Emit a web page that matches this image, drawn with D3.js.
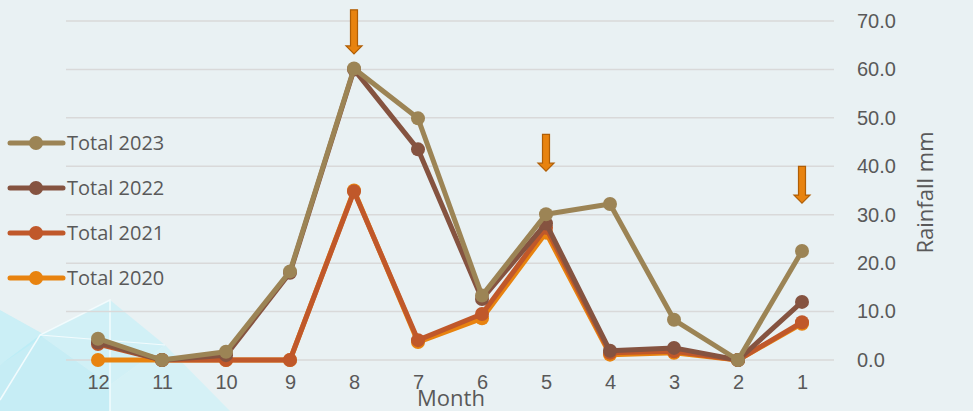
<!DOCTYPE html>
<html>
<head>
<meta charset="utf-8">
<script src="https://cdn.jsdelivr.net/npm/d3@7"></script>
<style>
  html, body { margin: 0; padding: 0; background: #e9f1f3; }
  svg { display: block; font-family: "Open Sans", "Noto Sans", sans-serif; }
</style>
</head>
<body>
<svg id="chart" width="973" height="411"></svg>
<script>
// months run backwards along the x axis
var months = ['12', '11', '10', '9', '8', '7', '6', '5', '4', '3', '2', '1'];

var total2020 = [0, 0, 0, 0, 35, 3.7, 8.6, 26.3, 1.1, 1.5, 0, 7.5];
var total2021 = [3.3, 0, 0, 0, 34.8, 4.1, 9.5, 27.3, 1.5, 1.8, 0, 7.8];
var total2022 = [3.6, 0, 1.0, 18, 60, 43.5, 12.6, 28.2, 1.9, 2.5, 0, 12];
var total2023 = [4.4, 0, 1.7, 18.3, 60.2, 49.9, 13.3, 30.1, 32.2, 8.3, 0, 22.5];

var yTicks = [0, 10, 20, 30, 40, 50, 60, 70];

// down arrows above highlighted months (tip value, length in mm)
var arrowMonths = ['8', '5', '1'];
var arrowTips = [63.2, 39, 32.4];
var arrowLens = [9.1, 7.6, 7.6];

var series = [
  { name: 'Total 2020', values: total2020, color: '#e8830f' },
  { name: 'Total 2021', values: total2021, color: '#c0582a' },
  { name: 'Total 2022', values: total2022, color: '#855340' },
  { name: 'Total 2023', values: total2023, color: '#9c8455' }
];

var svg = d3.select('#chart');
var W = 973, H = 411;
var margin = { top: 21, right: 139, bottom: 51, left: 66 };
var w = W - margin.left - margin.right;
var h = H - margin.top - margin.bottom;

// faint triangle decoration bottom-left
var deco = svg.append('g');
deco.append('polygon').attr('points', '0,310 45,335 0,365').attr('fill', '#bdeef7').attr('opacity', 0.7);
deco.append('polygon').attr('points', '40,335 110,300 165,345 110,385').attr('fill', '#c4eff8').attr('opacity', 0.65);
deco.append('polygon').attr('points', '0,365 40,335 110,385 110,411 0,411').attr('fill', '#b3ebf6').attr('opacity', 0.65);
deco.append('polygon').attr('points', '110,385 165,345 230,411 110,411').attr('fill', '#c8f1f8').attr('opacity', 0.6);
deco.append('polyline').attr('points', '0,400 40,335 110,300 110,411').attr('fill', 'none').attr('stroke', '#f2fbfd').attr('stroke-width', 1.5);
deco.append('line').attr('x1', 40).attr('y1', 335).attr('x2', 165).attr('y2', 345).attr('stroke', '#f2fbfd').attr('stroke-width', 1.2);

var g = svg.append('g').attr('transform', 'translate(' + margin.left + ',' + margin.top + ')');

var x = d3.scalePoint().domain(months).range([0, w]).padding(0.5);
var y = d3.scaleLinear().domain([0, 70]).range([h, 0]);

// gridlines
g.append('g').selectAll('line').data(yTicks).enter().append('line')
  .attr('x1', 0).attr('x2', w)
  .attr('y1', function (d) { return y(d); })
  .attr('y2', function (d) { return y(d); })
  .attr('stroke', '#d9d9d9').attr('stroke-width', 1.5);

// right y axis
var yAxis = g.append('g').attr('transform', 'translate(' + w + ',0)')
  .call(d3.axisRight(y).tickValues(yTicks).tickSize(0).tickPadding(23)
    .tickFormat(function (d) { return d.toFixed(1); }));
yAxis.select('.domain').remove();
yAxis.selectAll('text').style('font-size', '20px').attr('fill', '#595959');

// bottom x axis
var xAxis = g.append('g').attr('transform', 'translate(0,' + h + ')')
  .call(d3.axisBottom(x).tickSize(0).tickPadding(15));
xAxis.select('.domain').remove();
xAxis.selectAll('text').style('font-size', '20px').attr('fill', '#595959');

// axis titles
svg.append('text')
  .attr('transform', 'translate(933,' + (margin.top + h / 2 + 2) + ') rotate(-90)')
  .attr('text-anchor', 'middle').style('font-size', '22px').attr('fill', '#595959')
  .text('Rainfall mm');
svg.append('text').attr('x', 451).attr('y', 406)
  .attr('text-anchor', 'middle').style('font-size', '22px').attr('fill', '#595959')
  .text('Month');

// lines + markers
var line = d3.line()
  .x(function (d, i) { return x(months[i]); })
  .y(function (d) { return y(d); });

series.forEach(function (s) {
  var sg = g.append('g');
  sg.append('path').datum(s.values)
    .attr('d', line).attr('fill', 'none')
    .attr('stroke', s.color).attr('stroke-width', 5)
    .attr('stroke-linejoin', 'round');
  sg.selectAll('circle').data(s.values).enter().append('circle')
    .attr('cx', function (d, i) { return x(months[i]); })
    .attr('cy', function (d) { return y(d); })
    .attr('r', 7).attr('fill', s.color);
});

// arrows
arrowMonths.forEach(function (m, i) {
  var cx = x(m);
  var tip = y(arrowTips[i]);
  var top = y(arrowTips[i] + arrowLens[i]);
  var headH = 8, sw = 3.5, hw = 8;
  var pts = [
    [cx - sw, top], [cx + sw, top], [cx + sw, tip - headH], [cx + hw, tip - headH],
    [cx, tip], [cx - hw, tip - headH], [cx - sw, tip - headH]
  ];
  g.append('polygon').attr('points', pts.map(function (p) { return p.join(','); }).join(' '))
    .attr('fill', '#e8830f').attr('stroke', '#b05e05').attr('stroke-width', 1.2);
});

// legend (left)
var legend = svg.append('g');
series.slice().reverse().forEach(function (s, i) {
  var ly = 143 + i * 45;
  legend.append('line').attr('x1', 10).attr('x2', 63).attr('y1', ly).attr('y2', ly)
    .attr('stroke', s.color).attr('stroke-width', 5).attr('stroke-linecap', 'round');
  legend.append('circle').attr('cx', 36).attr('cy', ly).attr('r', 7).attr('fill', s.color);
  legend.append('text').attr('x', 67).attr('y', ly + 7)
    .style('font-size', '20px').attr('fill', '#595959').text(s.name);
});
</script>
</body>
</html>
